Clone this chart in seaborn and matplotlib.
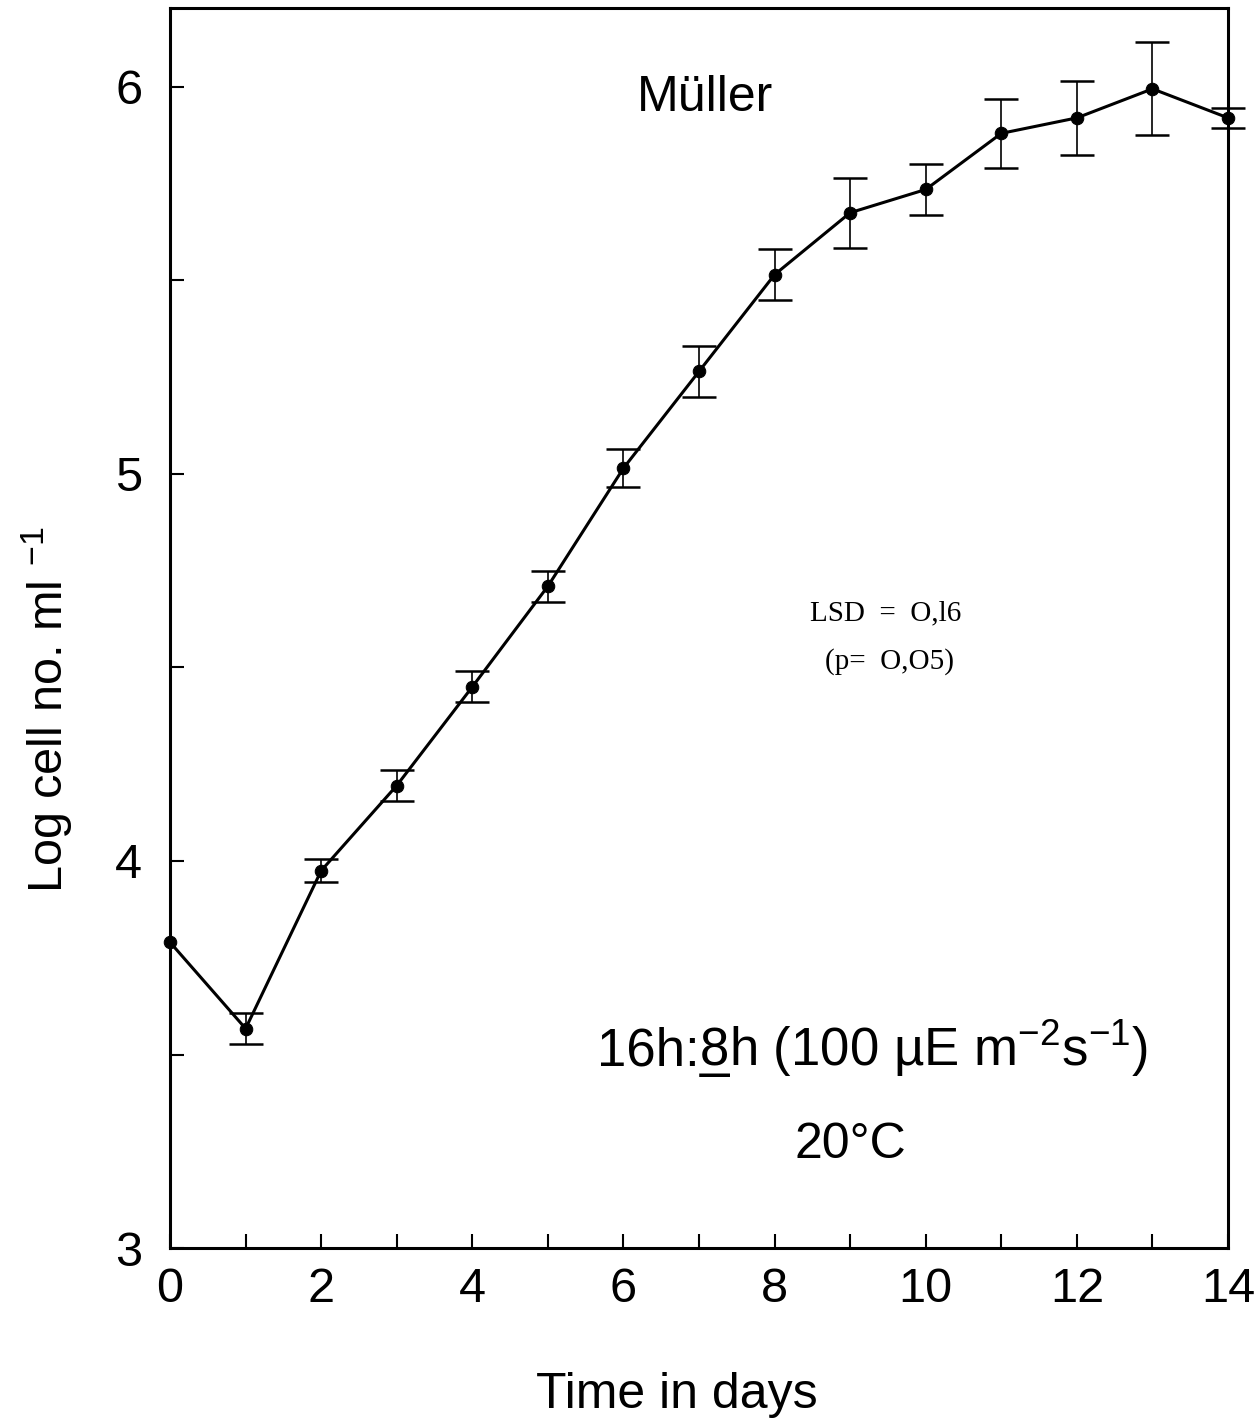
import numpy as np
import pandas as pd
import matplotlib
matplotlib.use("Agg")
import matplotlib.pyplot as plt
import seaborn as sns

days = [0, 1, 2, 3, 4, 5, 6, 7, 8, 9, 10, 11, 12, 13, 14]
log_cells = [3.79, 3.567, 3.975, 4.195, 4.45, 4.71, 5.015, 5.265, 5.515, 5.675,
             5.735, 5.88, 5.92, 5.995, 5.92]
errors = [0.0, 0.04, 0.03, 0.04, 0.04, 0.04, 0.05, 0.065, 0.065, 0.09,
          0.065, 0.09, 0.095, 0.12, 0.025]

df = pd.DataFrame({"day": days, "logcell": log_cells, "err": errors})

sns.set_style("ticks")
plt.rcParams["font.family"] = ["Liberation Sans", "DejaVu Sans"]
plt.rcParams["mathtext.fontset"] = "custom"
plt.rcParams["mathtext.rm"] = "Liberation Sans"
plt.rcParams["mathtext.it"] = "Liberation Sans:italic"
plt.rcParams["mathtext.bf"] = "Liberation Sans:bold"
for key in ["text.color", "axes.labelcolor", "xtick.color", "ytick.color", "axes.edgecolor"]:
    plt.rcParams[key] = "black"

fig = plt.figure(figsize=(12.54, 14.2), dpi=100)
ax = fig.add_axes([0.1356, 0.1211, 0.8437, 0.8733])

sns.lineplot(data=df, x="day", y="logcell", color="black", linewidth=2.2,
             marker="o", markersize=9, markeredgecolor="black", ax=ax,
             clip_on=False, zorder=3)
eb = ax.errorbar(df["day"][1:], df["logcell"][1:], yerr=df["err"][1:], fmt="none",
                 ecolor="black", elinewidth=1.2, capsize=12, capthick=1.8)
for art in eb.lines[1] + eb.lines[2]:
    art.set_clip_on(False)

ax.set_xlim(0, 14)
ax.set_ylim(3, 6.204)
ax.set_xticks(range(0, 15))
ax.set_xticklabels([str(d) if d % 2 == 0 else "" for d in range(0, 15)])
ax.set_yticks(np.arange(3, 6.01, 0.5))
ax.set_yticklabels(["3", "", "4", "", "5", "", "6"])
ax.tick_params(direction="in", length=10, width=1.5, labelsize=35)
ax.tick_params(axis="y", pad=20)
ax.tick_params(axis="x", pad=14)
for s in ax.spines.values():
    s.set_linewidth(2.2)

ax.set_xlabel("Time in days", fontsize=36)
ax.xaxis.set_label_coords(0.479, -0.100)
ax.set_ylabel("Log cell no. ml $^{-1}$", fontsize=35)
ax.yaxis.set_label_coords(-0.09, 0.434)

ax.text(0.506, 0.927, "Müller", transform=ax.transAxes, ha="center", va="center",
        fontsize=36)

# light regime line, with the "8" underlined
base_y = 0.147
t1 = ax.text(0.404, base_y, "16h:", transform=ax.transAxes, ha="left",
             va="baseline", fontsize=38)
t2 = ax.annotate("8", xy=(1, base_y), xycoords=(t1, "axes fraction"),
                 ha="left", va="baseline", fontsize=38)
ax.annotate("_", xy=(0, base_y), xycoords=(t2, "axes fraction"),
            ha="left", va="baseline", fontsize=38)
ax.annotate("h (100 µE m$^{-2}$s$^{-1}$)", xy=(1, base_y), xycoords=(t2, "axes fraction"),
            ha="left", va="baseline", fontsize=38)

ax.text(0.643, 0.083, "20°C", transform=ax.transAxes, ha="center", va="center",
        fontsize=36)
ax.text(0.676, 0.512, "LSD  =  O,l6", transform=ax.transAxes, ha="center",
        va="center", fontsize=21, family=["Liberation Serif", "DejaVu Serif"])
ax.text(0.68, 0.473, "(p=  O,O5)", transform=ax.transAxes, ha="center",
        va="center", fontsize=21, family=["Liberation Serif", "DejaVu Serif"])

fig.savefig("out.png", dpi=100)
